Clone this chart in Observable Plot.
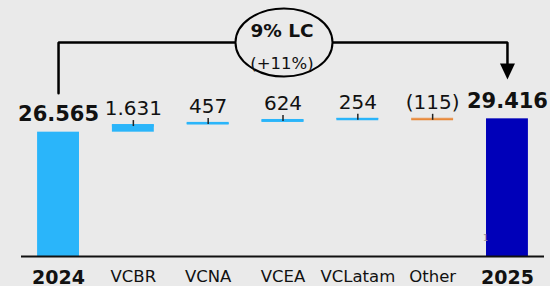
<!DOCTYPE html>
<html>
<head>
<meta charset="utf-8">
<script src="https://cdn.jsdelivr.net/npm/d3@7"></script>
<script src="https://cdn.jsdelivr.net/npm/@observablehq/plot@0.6"></script>
<style>
  html, body { margin: 0; padding: 0; background: #eaeaea; }
  #chart svg { display: block; background: #eaeaea; }
</style>
</head>
<body>
<div id="chart"></div>
<script>
// ---- data ----
const categories = ["2024", "VCBR", "VCNA", "VCEA", "VCLatam", "Other", "2025"];
const values     = [26565, 1631, 457, 624, 254, -115, 29416];
const valueLabels = ["26.565", "1.631", "457", "624", "254", "(115)", "29.416"];
const isTotal    = [true, false, false, false, false, false, true];
const growthLabel = "9% LC";
const growthSub   = "(+11%)";
const footnote    = "1";

// ---- build waterfall table ----
let run = 0;
const rows = categories.map((c, i) => {
  let y1, y2;
  if (isTotal[i]) { y1 = 0; y2 = values[i]; run = values[i]; }
  else { y1 = run; y2 = run + values[i]; run = y2; }
  return {cat: c, y1, y2, top: Math.max(y1, y2), value: values[i], label: valueLabels[i], total: isTotal[i]};
});
const colorOf = d => d.cat === "2025" ? "#0000b9" : (d.value < 0 ? "#e8893a" : "#2ab5fa");
const steps = rows.filter(d => !d.total);
const totals = rows.filter(d => d.total);
const first = rows[0], last = rows[rows.length - 1];

// annotation levels (data units)
const bracketY = 45730;
const leftEnd = 34900;
const arrowY = 39535;

const ellipse = {
  draw(ctx) {
    const rx = 48.5, ry = 34, k = 0.5523;
    ctx.moveTo(rx, 0);
    ctx.bezierCurveTo(rx, ry * k, rx * k, ry, 0, ry);
    ctx.bezierCurveTo(-rx * k, ry, -rx, ry * k, -rx, 0);
    ctx.bezierCurveTo(-rx, -ry * k, -rx * k, -ry, 0, -ry);
    ctx.bezierCurveTo(rx * k, -ry, rx, -ry * k, rx, 0);
    ctx.closePath();
  }
};
const arrowHead = {
  draw(ctx) {
    ctx.moveTo(-7.5, -8);
    ctx.lineTo(7.5, -8);
    ctx.lineTo(0, 8);
    ctx.closePath();
  }
};

const font = "DejaVu Sans, sans-serif";

const chart = Plot.plot({
  width: 550,
  height: 286,
  marginLeft: 21,
  marginRight: 6,
  marginTop: 22,
  marginBottom: 30,
  style: {fontFamily: font, background: "#eaeaea", color: "#111"},
  x: {domain: categories, paddingInner: 0.44, paddingOuter: 0.215, round: false, axis: null},
  y: {domain: [0, 50000], axis: null},
  marks: [
    // bracket line
    Plot.line([
      {x: first.cat, y: leftEnd},
      {x: first.cat, y: bracketY},
      {x: last.cat, y: bracketY},
      {x: last.cat, y: arrowY}
    ], {x: "x", y: "y", stroke: "#000", strokeWidth: 2.5, strokeLinejoin: "miter"}),
    Plot.dot([{x: last.cat, y: arrowY}], {x: "x", y: "y", symbol: arrowHead, fill: "#000", stroke: "none", r: 8}),
    Plot.dot([{x: "VCEA", y: bracketY}], {x: "x", y: "y", symbol: ellipse, fill: "#eaeaea", stroke: "#000", strokeWidth: 2, r: 30, dx: 1}),
    Plot.text([growthLabel], {x: () => "VCEA", y: () => bracketY, text: d => d, dx: -1, dy: -5, lineAnchor: "bottom", fontWeight: "bold", fontSize: 18.5, fill: "#111"}),
    Plot.text([growthSub], {x: () => "VCEA", y: () => bracketY, text: d => d, dx: -1, dy: 27, lineAnchor: "bottom", fontSize: 16.5, fill: "#111"}),
    // bars
    Plot.barY(rows, {x: "cat", y1: "y1", y2: "y2", fill: colorOf}),
    Plot.tickY(steps, {x: "cat", y: "top", stroke: colorOf, strokeWidth: 2, dy: 1}),
    Plot.ruleX(steps, {x: "cat", y1: d => d.top + 850, y2: d => d.top - 430, stroke: "#222", strokeWidth: 1.5}),
    // value labels
    Plot.text(steps, {x: "cat", y: "top", text: "label", dy: -9.5, lineAnchor: "bottom", fontSize: 20, fill: "#111"}),
    Plot.text(totals, {x: "cat", y: "top", text: "label", dy: -10.7, lineAnchor: "bottom", fontSize: 21, fontWeight: "bold", fill: "#111"}),
    // baseline
    Plot.ruleY([0], {stroke: "#111", strokeWidth: 2}),
    // x labels
    Plot.text(steps, {x: "cat", text: "cat", frameAnchor: "bottom", dy: 25, lineAnchor: "bottom", fontSize: 16.5, fill: "#111"}),
    Plot.text(totals, {x: "cat", text: "cat", frameAnchor: "bottom", dy: 27.5, lineAnchor: "bottom", fontSize: 19, fontWeight: "bold", fill: "#111"}),
    // footnote
    Plot.text([footnote], {x: () => last.cat, text: d => d, frameAnchor: "bottom", dx: -22, dy: -18.5, lineAnchor: "middle", fontSize: 8, fill: "#999"})
  ]
});
document.getElementById("chart").append(chart);
</script>
</body>
</html>
